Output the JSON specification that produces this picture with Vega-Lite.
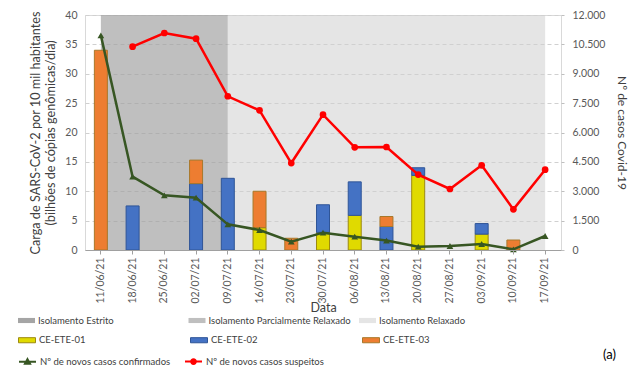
{
  "$schema": "https://vega.github.io/schema/vega-lite/v6.json",
  "width": 476,
  "height": 235,
  "padding": {"left": 18, "top": 10, "right": 5, "bottom": 5},
  "config": {
    "font": "Lato",
    "view": {"stroke": "#d9d9d9"},
    "axis": {"labelFont": "Lato", "labelColor": "#595959", "labelFontSize": 10.5, "titleFont": "Lato", "titleColor": "#404040", "titleFontWeight": "normal", "titleFontSize": 12},
    "legend": {"labelFont": "Lato", "labelFontSize": 9.5, "labelColor": "#404040", "labelOffset": 3}
  },
  "datasets": {
    "fases": [
      {"inicio": "11/06/21", "fim": "09/07/21", "fase": "Isolamento Parcialmente Relaxado"},
      {"inicio": "09/07/21", "fim": "17/09/21", "fase": "Isolamento Relaxado"}
    ],
    "cargas": [
      {"data": "11/06/21", "estacao": "CE-ETE-03", "carga": 34.0},
      {"data": "18/06/21", "estacao": "CE-ETE-02", "carga": 7.5},
      {"data": "02/07/21", "estacao": "CE-ETE-02", "carga": 11.3},
      {"data": "02/07/21", "estacao": "CE-ETE-03", "carga": 4.0},
      {"data": "09/07/21", "estacao": "CE-ETE-02", "carga": 12.2},
      {"data": "16/07/21", "estacao": "CE-ETE-01", "carga": 3.8},
      {"data": "16/07/21", "estacao": "CE-ETE-03", "carga": 6.2},
      {"data": "23/07/21", "estacao": "CE-ETE-03", "carga": 2.0},
      {"data": "30/07/21", "estacao": "CE-ETE-01", "carga": 3.0},
      {"data": "30/07/21", "estacao": "CE-ETE-02", "carga": 4.7},
      {"data": "06/08/21", "estacao": "CE-ETE-01", "carga": 5.9},
      {"data": "06/08/21", "estacao": "CE-ETE-02", "carga": 5.7},
      {"data": "13/08/21", "estacao": "CE-ETE-02", "carga": 4.0},
      {"data": "13/08/21", "estacao": "CE-ETE-03", "carga": 1.7},
      {"data": "20/08/21", "estacao": "CE-ETE-01", "carga": 12.7},
      {"data": "20/08/21", "estacao": "CE-ETE-02", "carga": 1.3},
      {"data": "03/09/21", "estacao": "CE-ETE-01", "carga": 2.7},
      {"data": "03/09/21", "estacao": "CE-ETE-02", "carga": 1.8},
      {"data": "10/09/21", "estacao": "CE-ETE-03", "carga": 1.7}
    ],
    "casos": [
      {"data": "11/06/21", "serie": "Nº de novos casos confirmados", "casos": 10960},
      {"data": "18/06/21", "serie": "Nº de novos casos confirmados", "casos": 3745},
      {"data": "25/06/21", "serie": "Nº de novos casos confirmados", "casos": 2790},
      {"data": "02/07/21", "serie": "Nº de novos casos confirmados", "casos": 2670},
      {"data": "09/07/21", "serie": "Nº de novos casos confirmados", "casos": 1310},
      {"data": "16/07/21", "serie": "Nº de novos casos confirmados", "casos": 1020},
      {"data": "23/07/21", "serie": "Nº de novos casos confirmados", "casos": 430},
      {"data": "30/07/21", "serie": "Nº de novos casos confirmados", "casos": 885},
      {"data": "06/08/21", "serie": "Nº de novos casos confirmados", "casos": 680},
      {"data": "13/08/21", "serie": "Nº de novos casos confirmados", "casos": 480},
      {"data": "20/08/21", "serie": "Nº de novos casos confirmados", "casos": 170},
      {"data": "27/08/21", "serie": "Nº de novos casos confirmados", "casos": 205},
      {"data": "03/09/21", "serie": "Nº de novos casos confirmados", "casos": 305},
      {"data": "10/09/21", "serie": "Nº de novos casos confirmados", "casos": 35},
      {"data": "17/09/21", "serie": "Nº de novos casos confirmados", "casos": 715},
      {"data": "18/06/21", "serie": "Nº de novos casos suspeitos", "casos": 10380},
      {"data": "25/06/21", "serie": "Nº de novos casos suspeitos", "casos": 11080},
      {"data": "02/07/21", "serie": "Nº de novos casos suspeitos", "casos": 10790},
      {"data": "09/07/21", "serie": "Nº de novos casos suspeitos", "casos": 7850},
      {"data": "16/07/21", "serie": "Nº de novos casos suspeitos", "casos": 7130},
      {"data": "23/07/21", "serie": "Nº de novos casos suspeitos", "casos": 4440},
      {"data": "30/07/21", "serie": "Nº de novos casos suspeitos", "casos": 6910},
      {"data": "06/08/21", "serie": "Nº de novos casos suspeitos", "casos": 5245},
      {"data": "13/08/21", "serie": "Nº de novos casos suspeitos", "casos": 5260},
      {"data": "20/08/21", "serie": "Nº de novos casos suspeitos", "casos": 3850},
      {"data": "27/08/21", "serie": "Nº de novos casos suspeitos", "casos": 3115},
      {"data": "03/09/21", "serie": "Nº de novos casos suspeitos", "casos": 4325},
      {"data": "10/09/21", "serie": "Nº de novos casos suspeitos", "casos": 2075},
      {"data": "17/09/21", "serie": "Nº de novos casos suspeitos", "casos": 4100}
    ]
  },
  "layer": [
    {
      "data": {"name": "fases"},
      "mark": {"type": "rect"},
      "encoding": {
        "x": {"field": "inicio", "type": "ordinal", "bandPosition": 0.5,
          "scale": {"domain": ["11/06/21","18/06/21","25/06/21","02/07/21","09/07/21","16/07/21","23/07/21","30/07/21","06/08/21","13/08/21","20/08/21","27/08/21","03/09/21","10/09/21","17/09/21"], "paddingInner": 0, "paddingOuter": 0}},
        "x2": {"field": "fim", "bandPosition": 0.5},
        "color": {"field": "fase", "type": "nominal",
          "scale": {"domain": ["Isolamento Estrito", "Isolamento Parcialmente Relaxado", "Isolamento Relaxado"], "range": ["rgba(64,64,64,0.47)", "rgba(160,160,160,0.67)", "rgba(208,208,208,0.55)"]},
          "legend": {"orient": "none", "legendX": -67, "legendY": 297, "direction": "horizontal", "columns": 3, "gridAlign": "all", "columnPadding": 7.5, "title": null, "symbolType": "M-1,-0.3L1,-0.3L1,0.3L-1,0.3Z", "symbolSize": 289, "symbolStrokeWidth": 0, "symbolOpacity": 1}}
      }
    },
    {
      "data": {"name": "cargas"},
      "mark": {"type": "bar", "width": 13, "strokeWidth": 1},
      "encoding": {
        "x": {"field": "data", "type": "ordinal",
          "scale": {"domain": ["11/06/21","18/06/21","25/06/21","02/07/21","09/07/21","16/07/21","23/07/21","30/07/21","06/08/21","13/08/21","20/08/21","27/08/21","03/09/21","10/09/21","17/09/21"], "paddingInner": 0, "paddingOuter": 0},
          "axis": {"title": "Data", "labelAngle": -90, "domainColor": "#a0a0a0", "tickColor": "#a0a0a0", "tickSize": 4, "labelPadding": 3, "titleY": 51, "titleBaseline": "top", "labelFontSize": 10.5, "titleFontSize": 12.5}},
        "y": {"field": "carga", "type": "quantitative", "stack": "zero",
          "scale": {"domain": [0, 40], "nice": false},
          "axis": {"title": ["Carga de SARS-CoV-2 por 10 mil habitantes", "(bilhões de cópias genômicas/dia)"], "values": [0,5,10,15,20,25,30,35,40], "grid": true, "gridDash": [4, 3], "gridColor": "#d0d0d0", "domain": false, "ticks": false, "labelPadding": 8, "titlePadding": 7, "titleLineHeight": 15, "titleFontSize": 12.7}},
        "color": {"field": "estacao", "type": "nominal",
          "scale": {"domain": ["CE-ETE-01", "CE-ETE-02", "CE-ETE-03"], "range": ["#e0da00", "#4472c4", "#ed7d31"]},
          "legend": {"orient": "none", "legendX": -67, "legendY": 316, "direction": "horizontal", "columns": 3, "gridAlign": "all", "columnPadding": 102, "title": null, "symbolType": "M-1,-0.3L1,-0.3L1,0.3L-1,0.3Z", "symbolSize": 289, "symbolStrokeWidth": 1, "symbolOpacity": 1,
            "encode": {"symbols": {"update": {"stroke": {"signal": "datum.value == 'CE-ETE-01' ? '#9c8a10' : datum.value == 'CE-ETE-02' ? '#2f5597' : '#a8782a'"}}}}}},
        "stroke": {"field": "estacao", "type": "nominal",
          "scale": {"domain": ["CE-ETE-01", "CE-ETE-02", "CE-ETE-03"], "range": ["#9c8a10", "#2f5597", "#a8782a"]},
          "legend": null},
        "order": {"field": "estacao", "sort": "ascending"}
      }
    },
    {
      "data": {"name": "casos"},
      "encoding": {
        "x": {"field": "data", "type": "ordinal",
          "scale": {"domain": ["11/06/21","18/06/21","25/06/21","02/07/21","09/07/21","16/07/21","23/07/21","30/07/21","06/08/21","13/08/21","20/08/21","27/08/21","03/09/21","10/09/21","17/09/21"], "paddingInner": 0, "paddingOuter": 0}},
        "y": {"field": "casos", "type": "quantitative",
          "scale": {"domain": [0, 12000], "nice": false},
          "axis": {"orient": "right", "title": "Nº de casos Covid-19", "values": [0,1500,3000,4500,6000,7500,9000,10500,12000], "labelExpr": "replace(format(datum.value, ',d'), ',', '.')", "grid": false, "domain": false, "ticks": true, "tickSize": 3, "tickColor": "#bfbfbf", "labelPadding": 8, "titlePadding": 10}},
        "color": {"field": "serie", "type": "nominal",
          "scale": {"domain": ["Nº de novos casos confirmados", "Nº de novos casos suspeitos"], "range": ["#375623", "#ff0000"]},
          "legend": {"orient": "none", "legendX": -67, "legendY": 337, "direction": "horizontal", "columns": 3, "gridAlign": "all", "columnPadding": 10, "title": null, "symbolSize": 289, "symbolStrokeWidth": 2, "symbolOpacity": 1,
            "encode": {"symbols": {"update": {
              "shape": {"signal": "datum.value == 'Nº de novos casos suspeitos' ? 'M-1,0L1,0M0.28,0A0.28,0.28,0,1,1,-0.28,0A0.28,0.28,0,1,1,0.28,0' : 'M-1,0L1,0M0,-0.3L0.3,0.24L-0.3,0.24Z'"},
              "fill": {"signal": "datum.value == 'Nº de novos casos suspeitos' ? '#ff0000' : '#375623'"},
              "stroke": {"signal": "datum.value == 'Nº de novos casos suspeitos' ? '#ff0000' : '#375623'"}
            }}}}}
      },
      "layer": [
        {"mark": {"type": "line", "strokeWidth": 2.5}},
        {"mark": {"type": "point", "filled": true, "size": 45, "opacity": 1},
          "encoding": {"shape": {"field": "serie", "type": "nominal", "scale": {"domain": ["Nº de novos casos confirmados", "Nº de novos casos suspeitos"], "range": ["triangle-up", "circle"]}, "legend": null}}}
      ]
    }
  ],
  "resolve": {"scale": {"color": "independent", "y": "independent"}},
  "title": {"text": "(a)", "orient": "bottom", "anchor": "end", "frame": "bounds", "fontSize": 13, "fontWeight": "normal", "color": "#000000", "offset": -19, "dx": -12}
}
